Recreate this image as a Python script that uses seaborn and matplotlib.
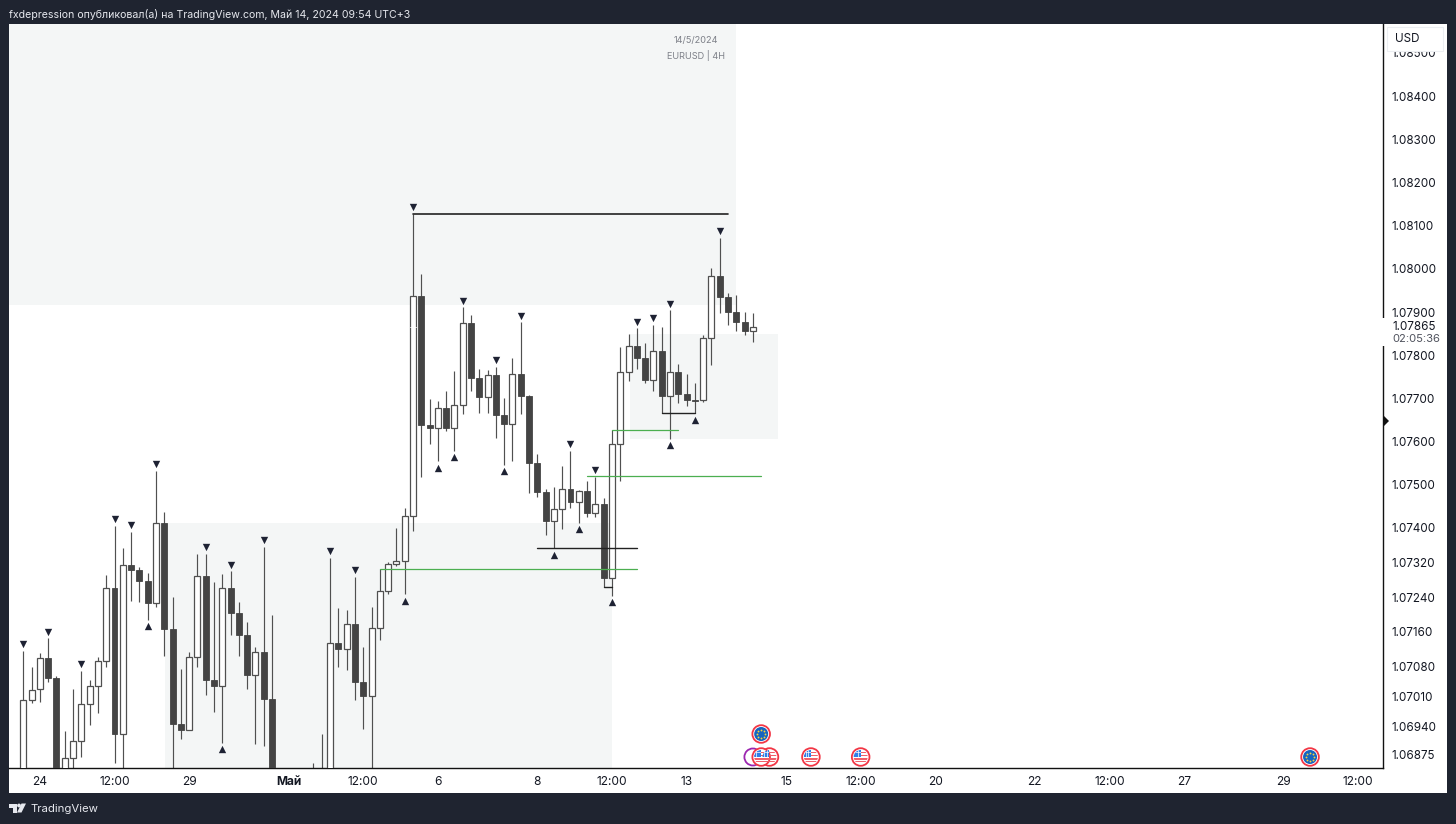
import numpy as np
import pandas as pd
import matplotlib.pyplot as plt
from matplotlib.patches import Rectangle, Circle, Polygon
import seaborn as sns

# 4H EURUSD candles, values
opens = [1.06780, 1.07002, 1.07027, 1.07098, 1.07052, 1.06780, 1.06868, 1.06907, 1.06992, 1.07034,
         1.07093, 1.07260, 1.06923, 1.07314, 1.07302, 1.07277, 1.07226, 1.07411, 1.07167, 1.06946,
         1.06932, 1.07102, 1.07290, 1.07049, 1.07035, 1.07262, 1.07203, 1.07152, 1.07059, 1.07113,
         1.07005, 1.06740, 1.06700, 1.06720, 1.06750, 1.06770, 1.06800, 1.06830, 1.07133, 1.07120,
         1.07178, 1.07043, 1.07012, 1.07168, 1.07253, 1.07316, 1.07324, 1.07428, 1.07938, 1.07639,
         1.07632, 1.07677, 1.07632, 1.07685, 1.07875, 1.07747, 1.07704, 1.07754, 1.07662, 1.07641,
         1.07757, 1.07706, 1.07550, 1.07483, 1.07416, 1.07444, 1.07490, 1.07460, 1.07486, 1.07434,
         1.07455, 1.07284, 1.07595, 1.07761, 1.07821, 1.07794, 1.07743, 1.07809, 1.07705, 1.07760,
         1.07711, 1.07697, 1.07697, 1.07840, 1.07983, 1.07935, 1.07900, 1.07878, 1.07857]
closes = [1.07002, 1.07025, 1.07098, 1.07053, 1.06770, 1.06868, 1.06907, 1.06992, 1.07034, 1.07093,
          1.07260, 1.06923, 1.07314, 1.07302, 1.07277, 1.07226, 1.07411, 1.07167, 1.06946, 1.06932,
          1.07101, 1.07290, 1.07049, 1.07035, 1.07262, 1.07203, 1.07152, 1.07059, 1.07113, 1.07005,
          1.06747, 1.06700, 1.06720, 1.06750, 1.06770, 1.06800, 1.06830, 1.07133, 1.07120, 1.07178,
          1.07043, 1.07012, 1.07168, 1.07253, 1.07316, 1.07324, 1.07428, 1.07938, 1.07639, 1.07632,
          1.07677, 1.07632, 1.07685, 1.07875, 1.07747, 1.07704, 1.07754, 1.07662, 1.07641, 1.07757,
          1.07706, 1.07550, 1.07483, 1.07416, 1.07444, 1.07490, 1.07460, 1.07486, 1.07435, 1.07455,
          1.07284, 1.07595, 1.07761, 1.07821, 1.07794, 1.07743, 1.07809, 1.07705, 1.07760, 1.07711,
          1.07696, 1.07695, 1.07839, 1.07983, 1.07935, 1.07901, 1.07878, 1.07857, 1.07866]
highs = [1.07116, 1.07078, 1.07111, 1.07145, 1.07057, 1.06930, 1.07028, 1.07069, 1.07047, 1.07101,
         1.07292, 1.07405, 1.07354, 1.07391, 1.07309, 1.07295, 1.07532, 1.07437, 1.07240, 1.07074,
         1.07114, 1.07339, 1.07340, 1.07274, 1.07294, 1.07300, 1.07229, 1.07182, 1.07125, 1.07357,
         1.07199, 1.06780, 1.06760, 1.06790, 1.06800, 1.06856, 1.06923, 1.07331, 1.07215, 1.07211,
         1.07287, 1.07125, 1.07218, 1.07304, 1.07321, 1.07400, 1.07446, 1.08128, 1.07988, 1.07698,
         1.07693, 1.07717, 1.07763, 1.07911, 1.07892, 1.07768, 1.07766, 1.07773, 1.07700, 1.07794,
         1.07876, 1.07708, 1.07571, 1.07490, 1.07494, 1.07544, 1.07579, 1.07488, 1.07509, 1.07519,
         1.07469, 1.07627, 1.07819, 1.07849, 1.07862, 1.07829, 1.07870, 1.07865, 1.07904, 1.07779,
         1.07756, 1.07736, 1.07847, 1.08002, 1.08072, 1.07943, 1.07939, 1.07900, 1.07898]
lows = [1.06780, 1.06996, 1.06998, 1.07044, 1.06747, 1.06770, 1.06828, 1.06871, 1.06944, 1.06972,
        1.07079, 1.06855, 1.06770, 1.07232, 1.07229, 1.07187, 1.07218, 1.07104, 1.06794, 1.06911,
        1.06932, 1.07079, 1.07013, 1.06975, 1.06903, 1.07152, 1.07104, 1.07027, 1.06900, 1.06896,
        1.06701, 1.06680, 1.06680, 1.06700, 1.06720, 1.06750, 1.06780, 1.06800, 1.07079, 1.07071,
        1.07002, 1.06935, 1.06790, 1.07141, 1.07247, 1.07312, 1.07247, 1.07392, 1.07519, 1.07594,
        1.07555, 1.07625, 1.07579, 1.07664, 1.07716, 1.07667, 1.07666, 1.07609, 1.07546, 1.07556,
        1.07664, 1.07482, 1.07471, 1.07383, 1.07353, 1.07398, 1.07447, 1.07412, 1.07426, 1.07426,
        1.07264, 1.07243, 1.07509, 1.07740, 1.07768, 1.07735, 1.07718, 1.07666, 1.07606, 1.07689,
        1.07682, 1.07666, 1.07692, 1.07777, 1.07897, 1.07870, 1.07857, 1.07847, 1.07830]

swing_high_idx = [0, 3, 7, 11, 13, 16, 22, 25, 29, 37, 40, 47, 53, 57, 60, 66, 69, 74, 76, 78, 84]
swing_low_idx = [15, 24, 46, 50, 52, 58, 64, 67, 71, 78, 81]

# supply/demand zones: start idx, end idx, low price, high price
zones = [(-2, 86, 1.07916, 1.0857), (17.1, 71, 1.0684, 1.07412), (73.2, 91, 1.07606, 1.07849)]
# level lines: start idx, end idx, price
black_levels = [(47, 85, 1.08128), (62, 74, 1.07353), (77, 81, 1.07666), (70, 71, 1.07264)]
green_levels = [(43, 74, 1.07304), (68, 89, 1.07520), (71, 79, 1.07627)]

y_ticks = [1.08500, 1.08400, 1.08300, 1.08200, 1.08100, 1.08000, 1.07900, 1.07800, 1.07700, 1.07600,
           1.07500, 1.07400, 1.07320, 1.07240, 1.07160, 1.07080, 1.07010, 1.06940, 1.06875]
x_tick_idx = [2, 11, 20, 32, 41, 50, 62, 71, 80, 92, 101, 110, 122, 131, 140, 152, 161]
x_tick_labels = ['24', '12:00', '29', 'Май', '12:00', '6', '8', '12:00', '13', '15', '12:00', '20', '22',
                 '12:00', '27', '29', '12:00']
us_events = [90, 89, 95, 101]
eu_events = [89, 155.2]
other_events = [88]

W, H = 1456, 824
DARK = '#1f2430'
INK = '#131722'
WICK = '#505050'
BODY = '#444444'
ZONE = '#f4f6f6'
GREEN = '#4caf50'


def fx(px):
    return px / W


def fy(px):
    return 1 - px / H


sns.set_style('white')
plt.rcParams['font.family'] = ['Inter', 'DejaVu Sans']

fig = plt.figure(figsize=(W / 100, H / 100), dpi=100, facecolor=DARK)
fig.patches.append(Rectangle((fx(9), fy(793)), fx(1438), 769 / H, transform=fig.transFigure,
                             facecolor='white', edgecolor='none', zorder=-1))

ax = fig.add_axes([fx(9), fy(768), fx(1374), 744 / H], facecolor='white')

candles = pd.DataFrame({'open': opens, 'close': closes, 'high': highs, 'low': lows})
candles['idx'] = candles.index
up = candles[candles['close'] >= candles['open']]
down = candles[candles['close'] < candles['open']]

for x0, x1, p0, p1 in zones:
    ax.add_patch(Rectangle((x0, p0), x1 - x0, p1 - p0, facecolor=ZONE, edgecolor='none', zorder=1))

ax.vlines(candles['idx'], candles['low'], candles['high'], color=WICK, linewidth=0.85, zorder=2)
ax.bar(up['idx'], up['close'] - up['open'], bottom=up['open'], width=0.72,
       facecolor='white', edgecolor=WICK, linewidth=0.9, zorder=3)
ax.bar(down['idx'], down['close'] - down['open'], bottom=down['open'], width=0.72,
       facecolor=BODY, edgecolor=BODY, linewidth=0.6, zorder=3)

for x0, x1, p in black_levels:
    ax.plot([x0, x1], [p, p], color='#222222', linewidth=1.2 if x1 - x0 > 20 else 1.0, zorder=4)
for x0, x1, p in green_levels:
    ax.plot([x0, x1], [p, p], color=GREEN, linewidth=0.9, zorder=4)
ax.plot([46.6, 47.4], [closes[-1], closes[-1]], color='white', linewidth=0.6, zorder=5)

# swing markers sit a few pixels past the wick
marks_hi = pd.DataFrame({'x': swing_high_idx, 'y': [highs[i] + 0.00015 for i in swing_high_idx]})
marks_lo = pd.DataFrame({'x': swing_low_idx, 'y': [lows[i] - 0.00015 for i in swing_low_idx]})
sns.scatterplot(data=marks_hi, x='x', y='y', marker='v', s=28, color='#1e2233', linewidth=0, ax=ax, zorder=6)
sns.scatterplot(data=marks_lo, x='x', y='y', marker='^', s=28, color='#1e2233', linewidth=0, ax=ax, zorder=6)

ax.set_xlim(-1.725, 164.0)
ax.set_ylim(1.068444, 1.085667)
ax.set_xlabel('')
ax.set_ylabel('')
ax.yaxis.tick_right()
ax.set_yticks(y_ticks)
ax.set_yticklabels([f'{v:.5f}' for v in y_ticks], fontsize=8.4, color=INK)
ax.set_xticks(x_tick_idx)
ax.set_xticklabels(x_tick_labels, fontsize=8.6, color=INK)
ax.get_xticklabels()[3].set_fontweight('bold')
ax.tick_params(axis='both', length=0)
ax.tick_params(axis='y', pad=6.2)
ax.tick_params(axis='x', pad=5.6)
for side in ['top', 'left']:
    ax.spines[side].set_visible(False)
for side in ['bottom', 'right']:
    ax.spines[side].set_visible(True)
    ax.spines[side].set_color('#111111')
    ax.spines[side].set_linewidth(1.0)

# overlay in pixel coordinates for the TradingView chrome
ov = fig.add_axes([0, 0, 1, 1], facecolor='none')
ov.set_xlim(0, W)
ov.set_ylim(H, 0)
ov.axis('off')


def idx_to_px(i):
    return ax.transData.transform((i, 1.07))[0]


def us_icon(x, y):
    clip = Circle((x, y), 7, transform=ov.transData)
    ov.add_patch(Circle((x, y), 8.8, facecolor='white', edgecolor='#f23645', linewidth=1.3, zorder=10))
    parts = []
    for dy in [-5.5, -2.4, 0.7, 3.6]:
        parts.append(Rectangle((x - 8, y + dy), 16, 1.8, facecolor='#f0606a', edgecolor='none', zorder=11))
    parts.append(Rectangle((x - 8, y - 7.5), 8, 7.5, facecolor='#2f7fe8', edgecolor='none', zorder=12))
    for dx in [-5, -2.5]:
        parts.append(Rectangle((x + dx, y - 7.5), 0.6, 7.5, facecolor='white', edgecolor='none', alpha=0.7, zorder=13))
    for dy in [-5, -2.5]:
        parts.append(Rectangle((x - 8, y + dy), 8, 0.6, facecolor='white', edgecolor='none', alpha=0.7, zorder=13))
    for p in parts:
        ov.add_patch(p)
        p.set_clip_path(clip)


def eu_icon(x, y):
    ov.add_patch(Circle((x, y), 8.8, facecolor='white', edgecolor='#f23645', linewidth=1.3, zorder=10))
    ov.add_patch(Circle((x, y), 7, facecolor='#1565c0', edgecolor='none', zorder=11))
    ang = np.deg2rad(np.arange(0, 360, 45))
    ov.scatter(x + 4.2 * np.cos(ang), y + 4.2 * np.sin(ang), s=1.8, color='#f7d13d', linewidth=0, zorder=12)


for i in other_events:
    ov.add_patch(Circle((idx_to_px(i), 757), 8.5, facecolor='white', edgecolor='#9c27b0', linewidth=1.3, zorder=9))
for i in us_events:
    us_icon(idx_to_px(i), 757)
eu_icon(idx_to_px(eu_events[0]), 734)
eu_icon(idx_to_px(eu_events[1]), 757)

# watermark
ov.text(696, 40, '14/5/2024', fontsize=6.6, color='#7d8088', ha='center', va='center')
ov.text(696, 55, 'EURUSD | 4H', fontsize=6.6, color='#7d8088', ha='center', va='center')

# header and footer
ov.text(9, 14, 'fxdepression опубликовал(а) на TradingView.com, Май 14, 2024 09:54 UTC+3',
        fontsize=7.6, color='#e6e8ee', ha='left', va='center')
ov.text(30, 808.5, 'TradingView', fontsize=8.2, color='#e6e8ee', ha='left', va='center')
ov.add_patch(Polygon([(9, 803.5), (16.5, 803.5), (16.5, 812.5), (12.5, 812.5), (12.5, 807.5), (9, 807.5)],
                     facecolor='#e6e8ee', edgecolor='none'))
ov.add_patch(Circle((19, 805.5), 1.9, facecolor='#e6e8ee', edgecolor='none'))
ov.add_patch(Polygon([(21.5, 803.5), (26, 803.5), (21.5, 812.5), (17, 812.5)], facecolor='#e6e8ee', edgecolor='none'))

# currency box and last price label on the price scale
ov.add_patch(Rectangle((1387, 27), 56, 24, facecolor='white', edgecolor='#eceef2', linewidth=0.8, zorder=8))
ov.text(1395, 38.5, 'USD', fontsize=8.4, color=INK, ha='left', va='center', zorder=9)
ov.add_patch(Rectangle((1381.5, 318), 64, 28, facecolor='white', edgecolor='none', zorder=8))
ov.text(1392, 326.5, f'{closes[-1] - 0.00001:.5f}', fontsize=8.4, color=INK, ha='left', va='center', zorder=9)
ov.text(1392, 339, '02:05:36', fontsize=8.1, color='#50535e', ha='left', va='center', zorder=9)
ov.add_patch(Polygon([(1384, 416), (1389, 421), (1384, 426)], facecolor='#111111', edgecolor='none', zorder=9))

fig.savefig('out.png', dpi=100, facecolor=fig.get_facecolor())
